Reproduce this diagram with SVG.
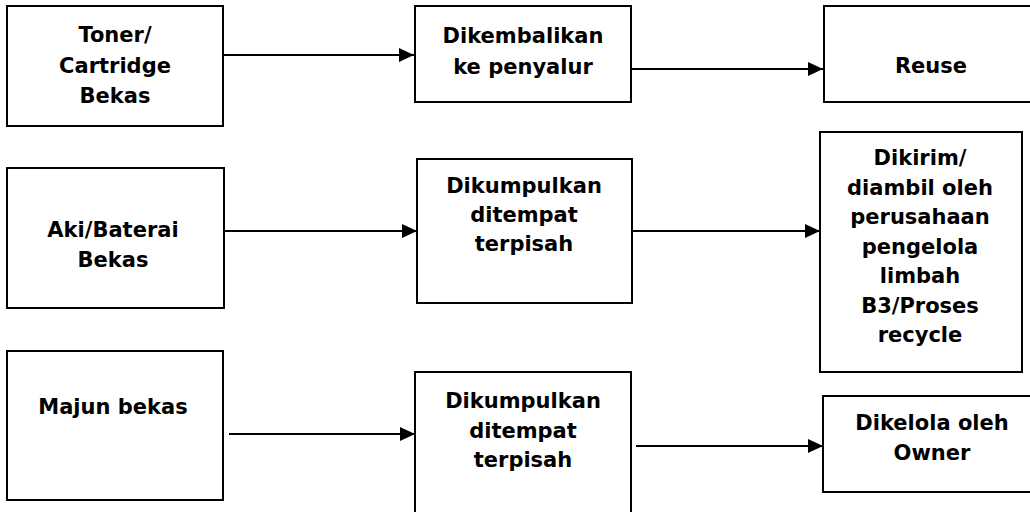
<svg xmlns="http://www.w3.org/2000/svg" width="1030" height="512" viewBox="0 0 1030 512">
<style>
.box{fill:#fff;stroke:#000;stroke-width:2}
.t{font-family:"DejaVu Sans",Verdana,sans-serif;font-weight:bold;font-size:21px;fill:#000;text-anchor:middle}
.c{stroke:#000;stroke-width:2;fill:none;marker-end:url(#ah)}
</style>
<defs>
<marker id="ah" markerUnits="userSpaceOnUse" markerWidth="16" markerHeight="16" viewBox="0 0 16 16" refX="15" refY="8" orient="auto">
<path d="M0,1 L15,8 L0,15 Z" fill="#000"/>
</marker>
</defs>
<rect width="1030" height="512" fill="#fff"/>
<g id="connectors">
<line class="c" x1="223" y1="55" x2="414" y2="55"/>
<line class="c" x1="631" y1="69" x2="823" y2="69"/>
<line class="c" x1="225" y1="231" x2="417" y2="231"/>
<line class="c" x1="633" y1="231" x2="820" y2="231"/>
<line class="c" x1="229" y1="434" x2="415" y2="434"/>
<line class="c" x1="636" y1="446" x2="823" y2="446"/>
</g>
<g id="toner">
<rect class="box" x="7" y="6" width="216" height="120"/>
<text class="t" x="115"><tspan x="115" y="42">Toner/</tspan><tspan x="115" y="73">Cartridge</tspan><tspan x="115" y="103">Bekas</tspan></text>
</g>
<g id="dikembalikan">
<rect class="box" x="415" y="6" width="216" height="96"/>
<text class="t"><tspan x="523" y="43">Dikembalikan</tspan><tspan x="523" y="74">ke penyalur</tspan></text>
</g>
<g id="reuse">
<rect class="box" x="824" y="6" width="216" height="96"/>
<text class="t" x="931" y="73">Reuse</text>
</g>
<g id="aki">
<rect class="box" x="7" y="168" width="217" height="140"/>
<text class="t"><tspan x="113" y="237">Aki/Baterai</tspan><tspan x="113" y="267">Bekas</tspan></text>
</g>
<g id="dikumpulkan1">
<rect class="box" x="417" y="159" width="215" height="144"/>
<text class="t"><tspan x="524" y="193">Dikumpulkan</tspan><tspan x="524" y="222">ditempat</tspan><tspan x="524" y="251">terpisah</tspan></text>
</g>
<g id="dikirim">
<rect class="box" x="820" y="132" width="202" height="240"/>
<text class="t"><tspan x="920" y="165">Dikirim/</tspan><tspan x="920" y="194.5">diambil oleh</tspan><tspan x="920" y="224">perusahaan</tspan><tspan x="920" y="253.5">pengelola</tspan><tspan x="920" y="283">limbah</tspan><tspan x="920" y="312.5">B3/Proses</tspan><tspan x="920" y="342">recycle</tspan></text>
</g>
<g id="majun">
<rect class="box" x="7" y="351" width="216" height="149"/>
<text class="t" x="113" y="414">Majun bekas</text>
</g>
<g id="dikumpulkan2">
<rect class="box" x="415" y="372" width="216" height="150"/>
<text class="t"><tspan x="523" y="408">Dikumpulkan</tspan><tspan x="523" y="438">ditempat</tspan><tspan x="523" y="467">terpisah</tspan></text>
</g>
<g id="dikelola">
<rect class="box" x="823" y="396" width="220" height="96"/>
<text class="t"><tspan x="932" y="430">Dikelola oleh</tspan><tspan x="932" y="460">Owner</tspan></text>
</g>
</svg>
